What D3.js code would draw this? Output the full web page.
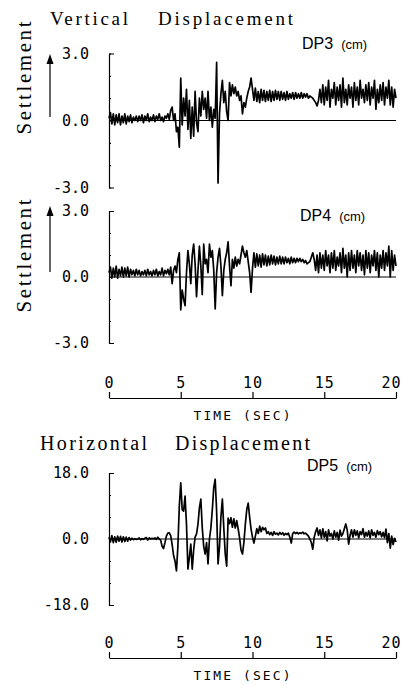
<!DOCTYPE html>
<html>
<head>
<meta charset="utf-8">
<script src="https://cdn.jsdelivr.net/npm/d3@7"></script>
<style>
body { margin: 0; background: #fff; }
svg { display: block; }
</style>
</head>
<body>
<svg class="chart" width="401" height="685"></svg>
<script>
// sampling step of the traces (sec)
var dt = 0.1;

// DP3 vertical displacement (cm), t = 0.0 .. 20.0
var dp3 = [
  0.1, 0.35, -0.15, 0.3, -0.2, 0.25, -0.1, 0.3, -0.2, 0.2,
  -0.1, 0.3, -0.15, 0.2, -0.05, 0.25, -0.1, 0.15, 0.0, 0.2,
  -0.05, 0.2, 0.0, 0.25, -0.1, 0.2, 0.0, 0.3, -0.05, 0.15,
  0.0, 0.25, -0.05, 0.2, 0.05, 0.3, 0.0, 0.15, -0.05, 0.2,
  0.1, 0.3, 0.05, 0.45, 0.6, 0.0, 0.3, -0.5, -0.3, -1.2,
  1.9, -0.2, 1.0, 0.2, 1.4, -0.4, 0.9, -0.8, 0.6, -0.7,
  1.3, -0.1, -0.5, 1.0, 0.2, 1.3, 0.5, 1.0, 0.1, 1.3,
  0.0, 0.6, -0.3, 0.5, 0.1, 2.6, -2.8, 0.3, 1.2, 1.8,
  0.8, 1.3, 0.4, 0.0, 1.7, 1.1, 1.6, 1.2, 1.5, 1.1,
  1.3, 0.9, 1.1, 0.3, 0.8, 0.6, 1.0, 1.3, 1.5, 1.9,
  1.4, 0.9, 1.45, 0.85, 1.3, 0.8, 1.4, 0.9, 1.35, 0.85,
  1.3, 0.9, 1.35, 0.85, 1.3, 0.9, 1.35, 0.95, 1.3, 0.9,
  1.3, 0.95, 1.25, 0.9, 1.3, 0.95, 1.2, 1.0, 1.25, 0.95,
  1.25, 1.0, 1.2, 1.0, 1.25, 1.0, 1.2, 1.05, 1.2, 1.0,
  1.1, 1.05, 1.0, 0.9, 0.8, 0.65, 0.9, 1.4, 0.8, 1.6,
  0.7, 1.5, 0.9, 1.8, 0.6, 1.4, 1.0, 1.7, 0.7, 1.5,
  0.9, 1.6, 0.6, 1.9, 0.8, 1.4, 0.7, 1.6, 1.0, 1.5,
  0.6, 1.7, 0.9, 1.5, 0.7, 1.8, 1.0, 1.4, 0.8, 1.6,
  0.9, 1.7, 0.7, 1.5, 1.0, 1.8, 0.5, 1.4, 0.8, 1.6,
  0.9, 1.7, 0.7, 1.5, 1.0, 1.8, 0.7, 1.5, 0.6, 1.4,
  1.0
];

// DP4 vertical displacement (cm)
var dp4 = [
  0.2, 0.45, -0.05, 0.4, 0.0, 0.5, -0.05, 0.35, 0.05, 0.45,
  0.0, 0.4, 0.05, 0.45, 0.0, 0.35, 0.1, 0.3, 0.05, 0.35,
  0.1, 0.3, 0.05, 0.25, 0.1, 0.3, 0.05, 0.35, 0.1, 0.25,
  0.05, 0.3, 0.1, 0.35, 0.05, 0.25, 0.1, 0.4, 0.05, 0.3,
  0.15, 0.35, 0.1, 0.45, -0.3, 0.3, 0.5, 0.2, 0.8, 1.1,
  -1.5, -0.6, -1.0, -1.3, 0.2, 1.2, 0.6, -0.3, 1.0, 1.5,
  0.6, -0.9, 0.3, 1.4, 0.5, -0.8, 1.5, 0.6, 0.8, 0.2,
  1.5, 0.9, 1.2, 0.3, -1.45, 0.2, 0.9, 1.3, 0.5, -0.85,
  0.3, 0.8, 1.1, 1.6, 0.5, -0.4, 0.8, 0.4, 0.9, 0.5,
  0.8, 0.6, 1.0, 1.4, 1.1, 0.9, 1.2, 0.7, 0.2, -0.7,
  0.4, 1.1, 0.45, 1.05, 0.5, 1.0, 0.45, 1.05, 0.55, 1.0,
  0.5, 0.95, 0.55, 1.0, 0.6, 0.95, 0.55, 0.9, 0.6, 0.95,
  0.6, 0.9, 0.6, 0.9, 0.65, 0.85, 0.6, 0.9, 0.65, 0.85,
  0.65, 0.85, 0.7, 0.85, 0.7, 0.8, 0.65, 0.75, 0.6, 0.65,
  0.7, 0.9, 1.1, 0.8, 0.3, 1.0, 0.2, 1.1, 0.4, 1.0,
  0.3, 1.2, 0.5, 1.0, 0.2, 1.1, 0.4, 1.2, 0.3, 0.9,
  0.5, 1.1, 0.2, 1.3, 0.4, 1.0, 0.0, 1.1, 0.3, 1.2,
  0.4, 1.0, 0.2, 1.2, 0.5, 1.1, 0.3, 1.0, 0.1, 1.2,
  0.4, 1.1, 0.2, 1.0, 0.5, 1.2, 0.3, 1.1, 0.0, 1.0,
  0.4, 1.2, 0.3, 1.1, 0.5, 1.4, 0.0, 1.2, 0.3, 1.0,
  0.5
];

// DP5 horizontal displacement (cm)
var dp5 = [
  0.5, -0.8, 0.9, -1.0, 0.6, -0.9, 0.8, -0.6, 0.7, -0.8,
  0.6, -0.7, 0.5, -0.6, 0.4, -0.3, 0.2, -0.2, 0.1, -0.1,
  0.0, 0.3, -0.2, 0.1, -0.1, 0.2, 0.4, -0.3, 0.3, 0.0,
  0.2, 0.0, 0.3, -0.1, 0.5, 0.0, -0.3, -2.0, -2.6, -1.0,
  0.8, 1.6, 1.7, 0.9, -1.5, -4.5, -6.0, -8.7, -2.0, 9.0,
  15.3, 8.0, 7.6, 11.7, 4.0, -8.2, -5.0, -1.4, -8.2, -3.0,
  0.5, 1.4, 4.0, 8.5, 10.9, 3.0, -2.0, -4.1, -1.0, -6.8,
  0.0, 3.0, 8.0, 14.0, 16.3, 7.6, -6.8, -2.0, 6.0, 10.9,
  3.0, -4.0, -7.4, 5.7, 4.2, 5.8, 3.2, 5.5, 3.0, 5.0,
  2.8, 0.3, -3.0, -4.1, -1.0, 4.0, 8.0, 9.8, 6.0, 2.7,
  0.5, -1.1, 0.8, 2.8, 1.5, 3.5, 2.0, 3.2, 2.5, 3.0,
  1.5, 2.0, 1.2, 1.8, 1.0, 2.0, 1.3, 1.6, 1.1, 1.8,
  1.3, 1.7, 1.0, 1.5, 1.2, 1.6, 0.5, -1.1, 1.5, 1.9,
  1.5, 1.8, 1.4, 1.7, 1.5, 1.9, 1.4, 1.6, 1.2, 0.8,
  0.0, -1.0, -2.8, 0.5, 2.0, 3.0, 1.0, 2.5, 0.3, 2.8,
  0.5, 2.0, -0.5, 2.5, 0.8, 1.5, 0.0, 2.2, 0.5, 1.8,
  -0.3, 2.4, 0.8, 1.5, 2.8, 4.1, 2.5, -1.4, 1.0, 2.5,
  0.5, 2.5, 1.0, 2.2, 0.3, 2.0, 1.2, 2.8, 0.5, 1.8,
  0.8, 2.2, 0.3, 2.5, 1.0, 1.8, 0.5, 2.3, 1.2, 2.0,
  0.6, 1.8, 0.4, 2.7, -1.0, 1.5, -2.5, 0.8, -1.5, 0.2,
  -0.8
];

var xTicks = [0, 5, 10, 15, 20];
var vertTicks = [3, 0, -3];
var vertTickLabels = ["3.0", "0.0", "-3.0"];
var vertMinor = [-3, -2, -1, 0, 1, 2, 3];
var horTicks = [18, 0, -18];
var horTickLabels = ["18.0", "0.0", "-18.0"];
var horMinor = [-18, -12, -6, 0, 6, 12, 18];

var monoFont = "'DejaVu Sans Mono', monospace";
var serifFont = "'Liberation Serif', 'Times New Roman', serif";
var sansFont = "'Liberation Sans', Arial, sans-serif";

var svg = d3.select(".chart");

var xChart = d3.scaleLinear().domain([0, 20]).range([109, 396]);

function drawPanel(p) {
    var yChart = d3.scaleLinear().domain(p.domain).range(p.range);
    var g = svg.append("g");

    //left axis, bracket shape with small ticks
    g.append("g")
        .attr("transform", "translate(109,0)")
        .call(d3.axisRight(yChart).tickValues(p.minor).tickSizeInner(2).tickSizeOuter(5).tickFormat(""))
        .call(function(a) { a.selectAll("path, line").attr("stroke", "#000").attr("stroke-width", 1.2); });

    //tick labels
    g.selectAll(".ylab")
        .data(p.ticks)
        .enter()
        .append("text")
        .attr("x", 89)
        .attr("y", function(d) { return yChart(d); })
        .attr("dy", "0.36em")
        .attr("text-anchor", "end")
        .style("font-family", monoFont)
        .style("font-size", "15px")
        .text(function(d, i) { return p.labels[i]; });

    //zero line
    g.append("line")
        .attr("x1", xChart(0)).attr("x2", xChart(20))
        .attr("y1", yChart(0)).attr("y2", yChart(0))
        .attr("stroke", "#000").attr("stroke-width", 1);

    //trace
    var line = d3.line()
        .x(function(d, i) { return xChart(i * dt); })
        .y(function(d) { return yChart(d); });

    g.append("path")
        .datum(p.values)
        .attr("d", line)
        .attr("fill", "none")
        .attr("stroke", "#000")
        .attr("stroke-width", 1.7)
        .attr("stroke-linejoin", "round");

    //gauge name
    var lab = g.append("text")
        .attr("x", p.nameX)
        .attr("y", p.nameY)
        .style("font-family", sansFont);
    lab.append("tspan").style("font-size", "16px").text(p.name);
    lab.append("tspan").attr("dx", 8).style("font-size", "13px").text("(cm)");

    if (p.settle) {
        g.append("text")
            .attr("transform", "translate(31," + p.settleY + ") rotate(-90)")
            .attr("text-anchor", "middle")
            .attr("textLength", 113)
            .attr("lengthAdjust", "spacing")
            .style("font-family", serifFont)
            .style("font-size", "21px")
            .text("Settlement");
        g.append("line")
            .attr("x1", 50).attr("x2", 50)
            .attr("y1", p.arrowY0).attr("y2", p.arrowY1 + 6)
            .attr("stroke", "#000").attr("stroke-width", 1.2);
        g.append("path")
            .attr("d", "M50," + p.arrowY1 + "L46.5," + (p.arrowY1 + 10) + "L53.5," + (p.arrowY1 + 10) + "Z")
            .attr("fill", "#000");
    }

    if (p.axisY) {
        g.append("g")
            .attr("transform", "translate(0," + p.axisY + ")")
            .call(d3.axisTop(xChart).tickValues(xTicks).tickSizeInner(6).tickSizeOuter(0).tickPadding(4))
            .call(function(a) {
                a.selectAll("path, line").attr("stroke", "#000").attr("stroke-width", 1.2);
                a.selectAll("text")
                    .style("font-family", monoFont)
                    .style("font-size", "15px")
                    .style("letter-spacing", "1px")
                    .attr("fill", "#000");
                a.selectAll("text").filter(function(d) { return d === 20; }).attr("dx", -5);
            });
        g.append("text")
            .attr("x", 242)
            .attr("y", p.axisY + 22)
            .attr("text-anchor", "middle")
            .attr("textLength", 97)
            .attr("lengthAdjust", "spacing")
            .style("font-family", monoFont)
            .style("font-size", "13px")
            .text("TIME (SEC)");
    }
}

//titles
function title(txt, x, y, len, size) {
    svg.append("text")
        .attr("x", x).attr("y", y)
        .attr("textLength", len)
        .attr("lengthAdjust", "spacing")
        .style("font-family", serifFont)
        .style("font-size", size + "px")
        .text(txt);
}
title("Vertical", 50, 25, 78, 19);
title("Displacement", 158, 25, 135, 19);
title("Horizontal", 40, 450, 107, 20);
title("Displacement", 175, 450, 135, 20);

drawPanel({ values: dp3, domain: [-3, 3], range: [187.5, 53.5], ticks: vertTicks, labels: vertTickLabels,
    minor: vertMinor, name: "DP3", nameX: 302, nameY: 49, settle: true, settleY: 78, arrowY0: 117, arrowY1: 54 });
drawPanel({ values: dp4, domain: [-3, 3], range: [343, 211], ticks: vertTicks, labels: vertTickLabels,
    minor: vertMinor, name: "DP4", nameX: 300, nameY: 221, settle: true, settleY: 256, arrowY0: 272, arrowY1: 206,
    axisY: 398 });
drawPanel({ values: dp5, domain: [-18, 18], range: [605, 473], ticks: horTicks, labels: horTickLabels,
    minor: horMinor, name: "DP5", nameX: 307, nameY: 471, axisY: 658 });
</script>
</body>
</html>
